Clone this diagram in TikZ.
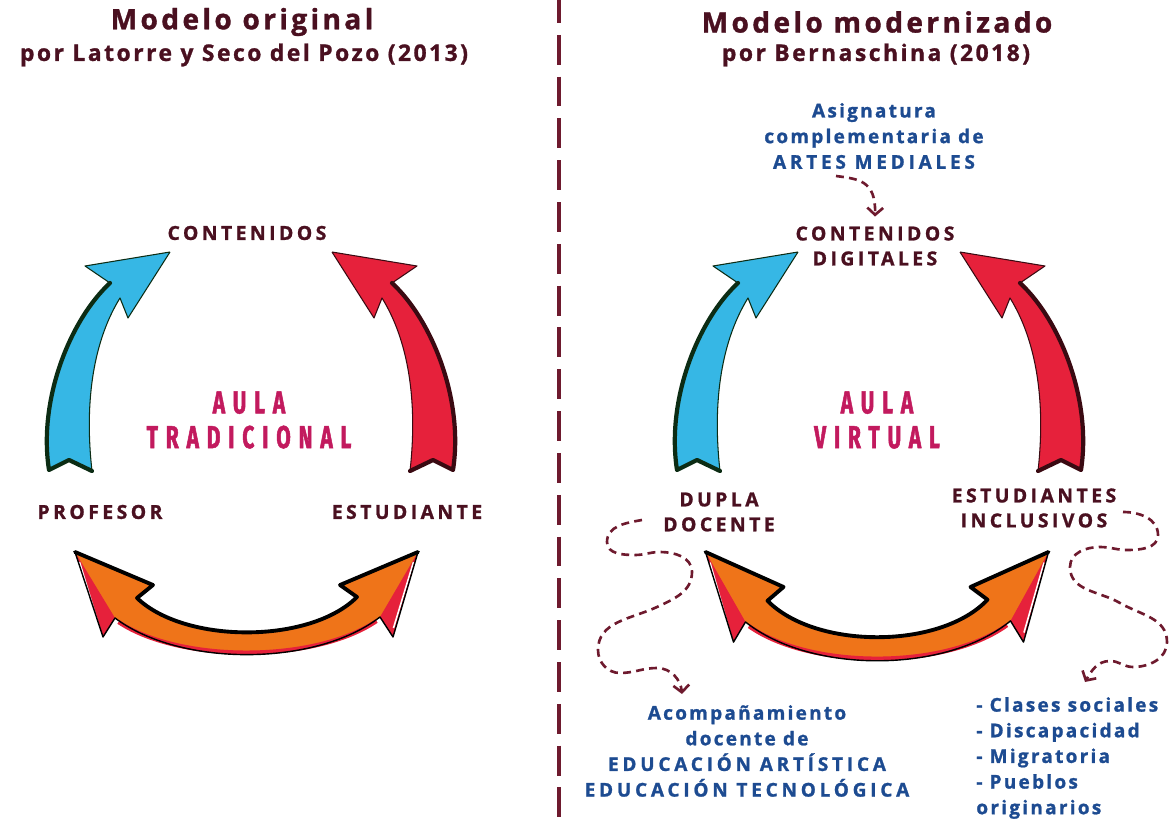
\documentclass[tikz,border=0pt]{standalone}
\usepackage{fontspec}
\setmainfont{Open Sans}[BoldFeatures={FakeBold=1.2}]
\newfontfamily\aulafont[FakeStretch=0.66, FakeBold=1.5]{Fira Sans}
\usetikzlibrary{arrows.meta,calc}

\definecolor{granate}{HTML}{4A1020}
\definecolor{aulacol}{HTML}{C21A5E}
\definecolor{azultxt}{HTML}{1D4B91}
\definecolor{trazo}{HTML}{6E1A2E}
\definecolor{celeste}{HTML}{36B7E5}
\definecolor{verdeosc}{HTML}{0C2C14}
\definecolor{rojo}{HTML}{E6213B}
\definecolor{rojoosc}{HTML}{3A0A12}
\definecolor{naranja}{HTML}{EF7419}

% mayusculas mas espaciadas
\newcommand{\mayus}[1]{{\addfontfeature{LetterSpace=20}#1}}

\begin{document}
\begin{tikzpicture}[x=0.02cm, y=-0.02cm,
        titulo/.style={text=granate, inner sep=0pt,
            font=\bfseries\fontsize{16}{18}\selectfont\addfontfeature{LetterSpace=12}},
        subtitulo/.style={text=granate, inner sep=0pt,
            font=\bfseries\fontsize{13}{15}\selectfont\addfontfeature{LetterSpace=11}},
        etiqueta/.style={text=granate, align=center, inner sep=2pt,
            font=\bfseries\fontsize{11}{14.2}\selectfont\addfontfeature{LetterSpace=18}},
        aula/.style={text=aulacol, align=center, inner sep=0pt,
            font=\aulafont\bfseries\fontsize{18}{19.8}\selectfont\addfontfeature{LetterSpace=25}},
        azul/.style={text=azultxt, align=center, inner sep=0pt,
            font=\bfseries\fontsize{10.8}{14.6}\selectfont\addfontfeature{LetterSpace=12}},
        guia/.style={draw=trazo, line width=1.5pt, dash pattern=on 4.5pt off 3pt,
            -{Straight Barb[length=4pt,width=9pt]}},
        pics/flechaarco/.style 2 args={code={
            \fill[#1] (170,252) -- (85,266) -- (110,283)
                .. controls (70,320) and (38,400) .. (49,470)
                -- (69,460) -- (92,471)
                .. controls (84,400) and (94,340) .. (120,298)
                -- (128,318) -- cycle;
            \draw[#2, line width=0.6pt, line join=round] (170,252) -- (85,266) -- (110,283)
                (92,471) .. controls (84,400) and (94,340) .. (120,298)
                -- (128,318) -- (170,252);
            \draw[#2, line width=2.4pt, line join=round, line cap=round] (110,283)
                .. controls (70,320) and (38,400) .. (49,470) -- (69,460) -- (92,471);
        }},
        pics/flechadoble/.style={code={
            \fill[naranja] (-171.5,0) -- (-143.5,85) -- (-131.5,66)
                .. controls (-66.5,115) and (68.5,115) .. (133.5,65)
                -- (146.5,85) -- (171.5,0) -- (93.5,33) -- (110.5,45)
                .. controls (63.5,92) and (-61.5,92) .. (-109.5,46)
                -- (-93.5,33) -- cycle;
            \fill[rojo] (-171.5,0) -- (-143.5,85) -- (-131.5,66) -- cycle;
            \fill[rojo] (171.5,0) -- (146.5,85) -- (133.5,65) -- cycle;
            \draw[white, line width=0.9pt] (-167,10) -- (-147,76) (167,10) -- (147,76);
            \draw[rojo, line width=2.4pt] (-128,70) .. controls (-66.5,111) and (68.5,111) .. (130,69);
            \draw[black, line width=0.8pt, line join=round] (-171.5,0) -- (-143.5,85) -- (-131.5,66)
                .. controls (-66.5,115) and (68.5,115) .. (133.5,65)
                -- (146.5,85) -- (171.5,0);
            \draw[black, line width=2.2pt, line join=round, line cap=round] (-171.5,0)
                -- (-93.5,33) -- (-109.5,46)
                .. controls (-61.5,92) and (63.5,92) .. (110.5,45)
                -- (93.5,33) -- (171.5,0);
        }}]
    \useasboundingbox (0,0) rectangle (1174,824);

    % linea divisoria
    \draw[trazo, line width=2.3pt, dash pattern=on 17pt off 6.8pt, dash phase=4pt]
        (559,0) -- (559,824);

    %%%%%% Modelo original %%%%%%
    \node[titulo] (tituloA) at (242,22) {Modelo original};
    \node[subtitulo] (subA) at (244,55) {por Latorre y Seco del Pozo (2013)};

    \node[etiqueta] (contA) at (247,233) {CONTENIDOS};
    \node[etiqueta] (prof) at (100,512) {PROFESOR};
    \node[etiqueta] (estu) at (407,512) {ESTUDIANTE};
    \node[aula] (aulaA) at (249,420) {AULA\\TRADICIONAL};

    % flechas
    \pic at (0,0) {flechaarco={celeste}{verdeosc}};
    \pic[xscale=-1] at (502,0) {flechaarco={rojo}{rojoosc}};
    \pic at (246.5,552) {flechadoble};

    %%%%%% Modelo modernizado %%%%%%
    \node[titulo] (tituloB) at (877,22) {Modelo modernizado};
    \node[subtitulo] (subB) at (876,55) {por Bernaschina (2018)};

    \node[azul] (artes) at (874,136) {Asignatura\\complementaria de\\\mayus{ARTES MEDIALES}};
    \node[etiqueta] (contB) at (875,246) {CONTENIDOS\\DIGITALES};
    \node[aula] (aulaB) at (877,420) {AULA\\VIRTUAL};
    \node[etiqueta] (dupla) at (719,512) {DUPLA\\DOCENTE};
    \node[etiqueta] (inclus) at (1034,508) {ESTUDIANTES\\INCLUSIVOS};

    \node[azul] (acomp) at (747,751)
        {Acompañamiento\\docente de\\\mayus{EDUCACIÓN ARTÍSTICA}\\\mayus{EDUCACIÓN TECNOLÓGICA}};
    \node[azul, align=left, anchor=west] (lista) at (976,758)
        {- Clases sociales\\- Discapacidad\\- Migratoria\\- Pueblos\\originarios};

    % flechas
    \pic at (628,0) {flechaarco={celeste}{verdeosc}};
    \pic[xscale=-1] at (1130,0) {flechaarco={rojo}{rojoosc}};
    \pic[yscale=1.06] at (877,552) {flechadoble};

    % lineas punteadas
    \coordinate (g1) at (836,176);
    \draw[guia] (g1) .. controls (858,179) and (876,180) .. ($(contB.north)+(0,-6)$);

    \coordinate (g2) at (642,520);
    \coordinate (f2) at (682,694);
    \draw[guia] (g2) to[out=190,in=90] (607,542) to[out=-90,in=180] (635,555)
        to[out=0,in=180] (660,552) to[out=0,in=90] (692,572)
        to[out=-90,in=25] (657,607) to[out=205,in=90] (598,650)
        to[out=-90,in=180] (620,673) to[out=0,in=180] (657,668)
        to[out=0,in=95] (f2);

    \coordinate (g3) at (1123,512);
    \coordinate (f3) at (1085,682);
    \draw[guia] (g3) to[out=0,in=90] (1158,535) to[out=-90,in=0] (1127,550)
        to[out=180,in=0] (1100,547) to[out=180,in=90] (1070,567)
        to[out=-90,in=150] (1120,603) to[out=-30,in=90] (1167,642)
        to[out=-90,in=0] (1133,667) to[out=180,in=0] (1110,661)
        to[out=180,in=60] (f3);

\end{tikzpicture}
\end{document}
